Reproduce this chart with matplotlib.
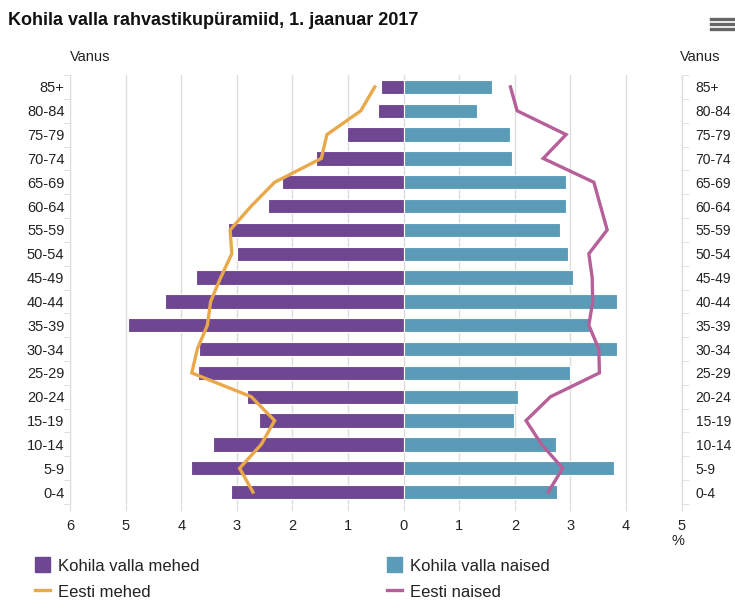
import matplotlib
matplotlib.use("Agg")
import matplotlib.pyplot as plt
from matplotlib.patches import Patch
from matplotlib.lines import Line2D
from matplotlib.ticker import FixedLocator, FuncFormatter

plt.rcParams['font.family'] = ['Liberation Sans', 'DejaVu Sans']

# age groups from youngest to oldest
age_groups = ["0-4", "5-9", "10-14", "15-19", "20-24", "25-29", "30-34", "35-39",
              "40-44", "45-49", "50-54", "55-59", "60-64", "65-69", "70-74",
              "75-79", "80-84", "85+"]

# share of population, %
kohila_men = [3.10, 3.83, 3.43, 2.60, 2.82, 3.69, 3.68, 4.95, 4.30, 3.73,
              3.00, 3.16, 2.44, 2.18, 1.57, 1.01, 0.47, 0.41]
kohila_women = [2.76, 3.79, 2.74, 1.99, 2.05, 2.99, 3.84, 3.35, 3.84, 3.04,
                2.96, 2.82, 2.92, 2.92, 1.94, 1.91, 1.32, 1.59]
eesti_men = [2.71, 2.95, 2.56, 2.32, 2.74, 3.81, 3.71, 3.53, 3.47, 3.29,
             3.09, 3.12, 2.74, 2.32, 1.48, 1.38, 0.77, 0.52]
eesti_women = [2.60, 2.86, 2.48, 2.20, 2.64, 3.52, 3.51, 3.33, 3.40, 3.39,
               3.33, 3.66, 3.54, 3.42, 2.51, 2.92, 2.04, 1.92]

x_ticks = [-6, -5, -4, -3, -2, -1, 0, 1, 2, 3, 4, 5]

PURPLE = "#6f4692"
BLUE = "#5a9bb8"
ORANGE = "#e9a94a"
PINK = "#b6609a"
GRID = "#dcdcdc"
TXT = "#222222"

fig = plt.figure(figsize=(7.35, 6.02), dpi=100)
ax = fig.add_axes([0.0952, 0.1628, 0.8323, 0.7126])

y = list(range(len(age_groups)))
ax.barh(y, [-v for v in kohila_men], height=0.6, color=PURPLE,
        edgecolor="white", linewidth=0.8, zorder=2)
ax.barh(y, kohila_women, height=0.6, color=BLUE,
        edgecolor="white", linewidth=0.8, zorder=2)
ax.plot([-v for v in eesti_men], y, color=ORANGE, lw=2.4, zorder=3,
        solid_joinstyle="miter")
ax.plot(eesti_women, y, color=PINK, lw=2.4, zorder=3, solid_joinstyle="miter")

ax.set_xlim(-6, 5)
ax.set_ylim(-0.5, len(age_groups) - 0.5)
ax.set_xticks(x_ticks)
ax.xaxis.set_major_formatter(FuncFormatter(lambda v, p: f"{abs(int(round(v)))}"))
ax.tick_params(axis="x", length=5, color=GRID, labelsize=10.5, labelcolor=TXT, pad=6)
ax.grid(axis="x", color=GRID, lw=1, zorder=0)
ax.set_axisbelow(True)

ax.set_yticks(y)
ax.set_yticklabels(age_groups)
ax.yaxis.set_minor_locator(FixedLocator([i - 0.5 for i in range(len(age_groups) + 1)]))
ax.tick_params(axis="y", which="major", length=0, labelsize=10.5, labelcolor=TXT, pad=4)
ax.tick_params(axis="y", which="minor", length=5, color=GRID)

for s in ["top", "bottom"]:
    ax.spines[s].set_visible(False)
for s in ["left", "right"]:
    ax.spines[s].set_color(GRID)

ax2 = ax.twinx()
ax2.set_ylim(ax.get_ylim())
ax2.set_yticks(y)
ax2.set_yticklabels(age_groups)
ax2.yaxis.set_minor_locator(FixedLocator([i - 0.5 for i in range(len(age_groups) + 1)]))
ax2.tick_params(axis="y", which="major", length=0, labelsize=10, labelcolor=TXT, pad=10)
ax2.tick_params(axis="y", which="minor", length=5, color=GRID)
for s in ["top", "bottom", "left"]:
    ax2.spines[s].set_visible(False)
ax2.spines["right"].set_color(GRID)

fig.text(0.011, 0.966, "Kohila valla rahvastikupüramiid, 1. jaanuar 2017",
         fontsize=13, fontweight="bold", color="#111111", va="center")
fig.text(0.095, 0.905, "Vanus", fontsize=10.5, color=TXT, va="center")
fig.text(0.925, 0.905, "Vanus", fontsize=10.5, color=TXT, va="center")
fig.text(0.914, 0.101, "%", fontsize=10.5, color=TXT, va="center")

# menu icon
for yy in [0.969, 0.960, 0.951]:
    fig.add_artist(Line2D([0.968, 0.998], [yy, yy], color="#666666", lw=2.4))

h_left = [Patch(color=PURPLE, label="Kohila valla mehed"),
          Line2D([0], [0], color=ORANGE, lw=2.4, label="Eesti mehed")]
h_right = [Patch(color=BLUE, label="Kohila valla naised"),
           Line2D([0], [0], color=PINK, lw=2.4, label="Eesti naised")]
for handles, x0 in [(h_left, 0.047), (h_right, 0.526)]:
    fig.legend(handles=handles, loc="upper left", bbox_to_anchor=(x0, 0.074),
               frameon=False, fontsize=12, handlelength=0.95, handleheight=1.0,
               handletextpad=0.45, labelspacing=0.6, borderaxespad=0,
               borderpad=0, labelcolor=TXT)

fig.savefig("out.png", dpi=100)
